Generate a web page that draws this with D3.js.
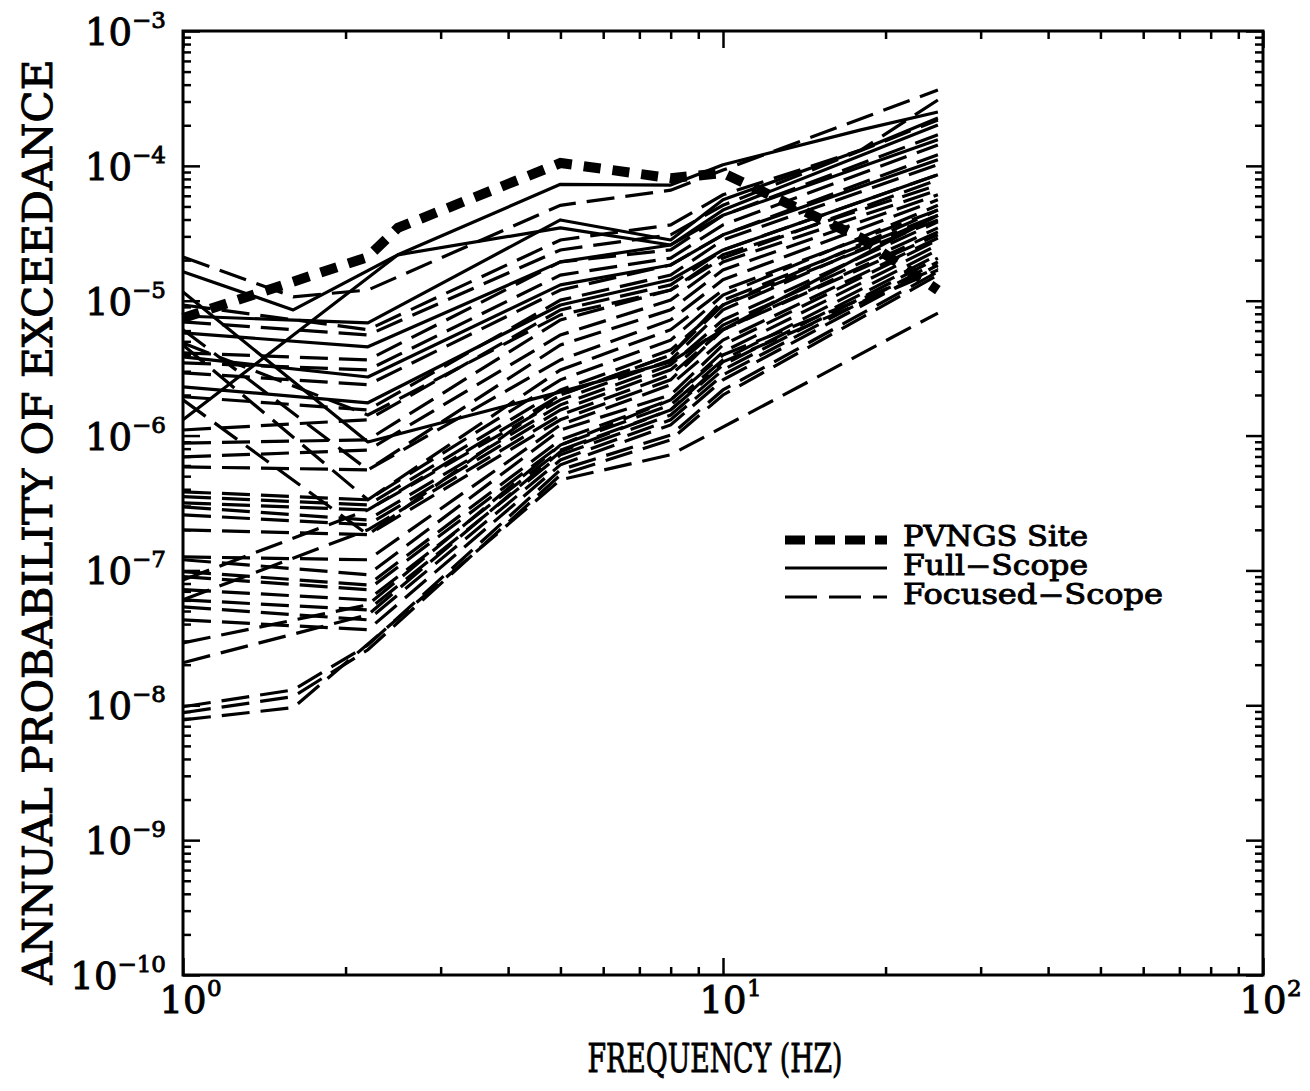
<!DOCTYPE html>
<html>
<head>
<meta charset="utf-8">
<script src="https://cdn.jsdelivr.net/npm/d3@7"></script>
<style>
  html, body { margin: 0; padding: 0; background: #fff; }
  svg { display: block; }
  text { font-family: "DejaVu Serif", serif; fill: #000; stroke: #000; stroke-width: 0.9px; }
</style>
</head>
<body>
<svg id="chart" width="1310" height="1091"></svg>
<script>
// ---------------- DATA ----------------
const freqs = [1, 1.6, 2.2, 2.5, 5, 8, 10, 18, 25];

const pvngs = [7.45e-6, null, 2.11e-5, 3.47e-5, 1.05e-4, 8.1e-5, 8.85e-5, 2.92e-5, 1.2e-5];

const fullScope = [
  [1.64e-5, 8.55e-6, null, 2.19e-5, 7.3e-5, 7.2e-5, 1.02e-4, 1.85e-4, 2.51e-4],
  [7.7e-6, null, 6.85e-6, null, 3.97e-5, 2.82e-5, 5.6e-5, 1.31e-4, 2.26e-4],
  [1.16e-5, null, 8.97e-7, null, 2.11e-6, 3.52e-6, 6.1e-6, null, 4.3e-5],
  [1.31e-6, null, null, 2.19e-5, 3.47e-5, 2.59e-5, 4.7e-5, null, 2.01e-4],
  [5.77e-6, null, 4.55e-6, null, 1.94e-5, 2.59e-5, 4.3e-5, null, 1.56e-4],
  [3.83e-6, null, 2.72e-6, null, 1.31e-5, 1.84e-5, 3.08e-5, null, 1.11e-4],
  [2.30e-6, null, 1.75e-6, null, 9.3e-6, 1.43e-5, 2.38e-5, null, 8.6e-5]
];

const focusedScope = [
  [2.11e-5, 1.07e-5, 1.2e-5, null, 5.1e-5, 6.6e-5, 9.3e-5, null, 3.65e-4],
  [9.3e-6, null, 6.1e-6, null, 2.82e-5, 3.65e-5, 6.1e-5, 1.31e-4, 3.08e-4],
  [6.97e-6, null, 5.57e-6, null, 2.38e-5, 3.08e-5, 5.1e-5, null, 2.19e-4],
  [4.1e-6, null, 3.64e-6, null, 1.94e-5, 2.38e-5, 4.3e-5, null, 1.7e-4],
  [3.46e-6, null, 3.07e-6, null, 1.55e-5, 2.07e-5, 3.65e-5, null, 1.43e-4],
  [2.92e-6, null, 2.38e-6, null, 1.2e-5, 1.84e-5, 3.08e-5, null, 1.21e-4],
  [1.94e-6, null, 1.55e-6, null, 1.01e-5, 1.55e-5, 2.82e-5, null, 1.02e-4],
  [1.1e-6, null, 1.31e-6, null, 8.55e-6, 1.31e-5, 2.38e-5, null, 8.6e-5],
  [8.8e-7, null, 9.3e-7, null, 7.2e-6, 1.2e-5, 2.07e-5, null, 7.9e-5],
  [6.95e-7, null, 7.8e-7, null, 5.57e-6, 1.01e-5, 1.94e-5, null, 6.6e-5],
  [5.86e-7, null, 5.57e-7, null, 4.7e-6, 8.55e-6, 1.69e-5, null, 6.1e-5],
  [3.83e-7, null, 3.34e-7, null, 2.59e-6, 5.1e-6, 1.1e-5, null, 5.1e-5],
  [3.52e-7, null, 3.06e-7, null, 2.18e-6, 4.32e-6, 9.3e-6, null, 4.7e-5],
  [3.17e-7, null, 2.81e-7, null, 1.84e-6, 3.64e-6, 8.55e-6, null, 4.3e-5],
  [2.96e-7, null, 2.37e-7, null, 1.69e-6, 3.34e-6, 7.2e-6, null, 3.84e-5],
  [2.58e-7, null, 2.18e-7, null, 1.55e-6, 3.07e-6, 6.6e-6, null, 3.47e-5],
  [2.0e-7, null, 1.84e-7, null, 1.31e-6, 2.59e-6, 6.1e-6, null, 3.08e-5],
  [1.26e-7, null, 1.2e-7, null, 1.2e-6, 2.38e-6, 5.1e-6, null, 2.92e-5],
  [1.2e-7, null, 9.3e-8, null, 1.1e-6, 2.0e-6, 4.7e-6, null, 2.82e-5],
  [9.8e-8, null, 7.8e-8, null, 9.3e-7, 1.84e-6, 4.17e-6, null, 2.59e-5],
  [9.0e-8, null, 7.2e-8, null, 8.5e-7, 1.69e-6, 3.64e-6, null, 2.38e-5],
  [7.2e-8, null, 6.05e-8, null, 7.8e-7, 1.55e-6, 3.34e-6, null, 2.19e-5],
  [6.05e-8, null, 5.1e-8, null, 7.2e-7, 1.42e-6, 3.07e-6, null, 2.07e-5],
  [5.37e-8, null, 4.3e-8, null, 6.6e-7, 1.31e-6, 2.82e-6, null, 1.94e-5],
  [4.3e-8, null, 3.63e-8, null, 6.07e-7, 1.2e-6, 2.59e-6, null, 1.84e-5],
  [2.9e-8, null, 5.56e-8, null, 8.5e-7, 1.84e-6, 3.96e-6, null, 1.75e-5],
  [2.07e-8, null, 4.69e-8, null, 7.6e-7, 1.55e-6, 3.52e-6, null, 1.69e-5],
  [9.75e-9, 1.3e-8, 2.8e-8, null, 5.57e-7, 1.01e-6, 2.18e-6, null, 1.64e-5],
  [8.8e-9, 1.16e-8, 2.58e-8, null, 5.1e-7, 9.3e-7, 2.0e-6, null, 1.55e-5],
  [7.8e-9, 9.6e-9, null, null, 4.7e-7, 7.2e-7, null, null, 8.1e-6],
  [6.1e-6, null, 5.57e-7, null, 3.64e-6, 7.2e-6, 1.43e-5, null, 5.6e-5],
  [4.7e-6, null, 3.34e-7, null, 3.07e-6, 6.1e-6, 1.2e-5, null, 4.7e-5],
  [1.84e-6, null, 1.84e-7, null, 2.0e-6, 3.96e-6, 1.01e-5, null, 4.3e-5],
  [4.86e-6, null, 1.42e-6, null, 7.85e-6, 1.2e-5, 2.19e-5, null, 7.2e-5],
  [8.5e-8, null, 2.81e-7, null, 2.0e-6, 3.96e-6, 9.3e-6, null, 3.97e-5],
  [6.05e-8, null, 2.0e-7, null, 1.42e-6, 2.82e-6, 6.1e-6, null, 3.24e-5]
];

const xExponents = [0, 1, 2];
const yExponents = [-3, -4, -5, -6, -7, -8, -9, -10];
const legendLabels = ["PVNGS Site", "Full\u2212Scope", "Focused\u2212Scope"];
const xTitle = "FREQUENCY (HZ)";
const yTitle = "ANNUAL PROBABILITY OF EXCEEDANCE";

// ---------------- LAYOUT ----------------
const L = 183, R = 1263, T = 31, B = 975;
const svg = d3.select("#chart");
const x = d3.scaleLog().domain([1, 100]).range([L, R]);
const y = d3.scaleLog().domain([1e-10, 1e-3]).range([B, T]);

const line = d3.line().x(d => x(d[0])).y(d => y(d[1]));
const pts = s => s.map((v, i) => [freqs[i], v]).filter(d => d[1] != null);

const plot = svg.append("g");

plot.selectAll("path.focused").data(focusedScope).enter().append("path")
  .attr("class", "focused")
  .attr("d", s => line(pts(s)))
  .attr("fill", "none").attr("stroke", "#000").attr("stroke-width", 3.2)
  .attr("stroke-dasharray", "28,11");

plot.selectAll("path.full").data(fullScope).enter().append("path")
  .attr("class", "full")
  .attr("d", s => line(pts(s)))
  .attr("fill", "none").attr("stroke", "#000").attr("stroke-width", 3.2)
  .attr("stroke-linejoin", "round");

plot.append("path")
  .attr("d", line(pts(pvngs)))
  .attr("fill", "none").attr("stroke", "#000").attr("stroke-width", 10)
  .attr("stroke-dasharray", "17,12");

// ---------------- AXES ----------------
const yMajor = d3.range(-10, -2).map(e => Math.pow(10, e));
const yMinor = [];
for (let e = -10; e < -3; e++) for (let m = 2; m <= 9; m++) yMinor.push(m * Math.pow(10, e));
const xMajor = [1, 10, 100];
const xMinor = [];
for (let e = 0; e < 2; e++) for (let m = 2; m <= 9; m++) xMinor.push(m * Math.pow(10, e));

function axisG(axis, tr) {
  const g = svg.append("g").attr("transform", tr).call(axis);
  g.select(".domain").remove();
  g.selectAll("text").remove();
  g.selectAll("line").attr("stroke", "#000").attr("stroke-width", 2.5);
  return g;
}
axisG(d3.axisLeft(y).tickValues(yMajor).tickSize(-17), `translate(${L},0)`);
axisG(d3.axisLeft(y).tickValues(yMinor).tickSize(-8), `translate(${L},0)`);
axisG(d3.axisRight(y).tickValues(yMajor).tickSize(-17), `translate(${R},0)`);
axisG(d3.axisRight(y).tickValues(yMinor).tickSize(-8), `translate(${R},0)`);
axisG(d3.axisBottom(x).tickValues(xMajor).tickSize(-17), `translate(0,${B})`);
axisG(d3.axisBottom(x).tickValues(xMinor).tickSize(-8), `translate(0,${B})`);
axisG(d3.axisTop(x).tickValues(xMajor).tickSize(-17), `translate(0,${T})`);
axisG(d3.axisTop(x).tickValues(xMinor).tickSize(-8), `translate(0,${T})`);

svg.append("rect").attr("x", L).attr("y", T).attr("width", R - L).attr("height", B - T)
  .attr("fill", "none").attr("stroke", "#000").attr("stroke-width", 3);

// y tick labels
yExponents.forEach(e => {
  const t = svg.append("text")
    .attr("x", 166).attr("y", y(Math.pow(10, e)) + 14)
    .attr("text-anchor", "end").style("font-size", "37px");
  t.append("tspan").text("10");
  t.append("tspan").attr("dy", -17).style("font-size", "23px")
    .text("\u2212" + Math.abs(e));
});

// x tick labels
xExponents.forEach(e => {
  const xp = x(Math.pow(10, e));
  svg.append("text").attr("x", xp).attr("y", 1013)
    .attr("text-anchor", "middle").style("font-size", "37px").text("10");
  svg.append("text").attr("x", xp + 24).attr("y", 996)
    .attr("text-anchor", "start").style("font-size", "23px").text(String(e));
});

// axis titles
svg.append("text")
  .attr("transform", "translate(52,522) rotate(-90)")
  .attr("text-anchor", "middle")
  .attr("textLength", 925).attr("lengthAdjust", "spacingAndGlyphs")
  .style("font-size", "41px").text(yTitle);

svg.append("text")
  .attr("x", 715).attr("y", 1072)
  .attr("text-anchor", "middle")
  .attr("textLength", 255).attr("lengthAdjust", "spacingAndGlyphs")
  .style("font-size", "40px").text(xTitle);

// ---------------- LEGEND ----------------
const legY = [540, 568, 597];
const legText = [546, 575, 604];
const legLen = [185, 185, 260];
const lg = svg.append("g");
lg.append("line").attr("x1", 785).attr("x2", 887).attr("y1", legY[0]).attr("y2", legY[0])
  .attr("stroke", "#000").attr("stroke-width", 9).attr("stroke-dasharray", "20,10");
lg.append("line").attr("x1", 785).attr("x2", 887).attr("y1", legY[1]).attr("y2", legY[1])
  .attr("stroke", "#000").attr("stroke-width", 3);
lg.append("line").attr("x1", 785).attr("x2", 887).attr("y1", legY[2]).attr("y2", legY[2])
  .attr("stroke", "#000").attr("stroke-width", 3).attr("stroke-dasharray", "32,12");
legendLabels.forEach((s, i) => {
  lg.append("text").attr("x", 903).attr("y", legText[i])
    .attr("textLength", legLen[i]).attr("lengthAdjust", "spacingAndGlyphs")
    .style("font-size", "27px").text(s);
});
</script>
</body>
</html>
